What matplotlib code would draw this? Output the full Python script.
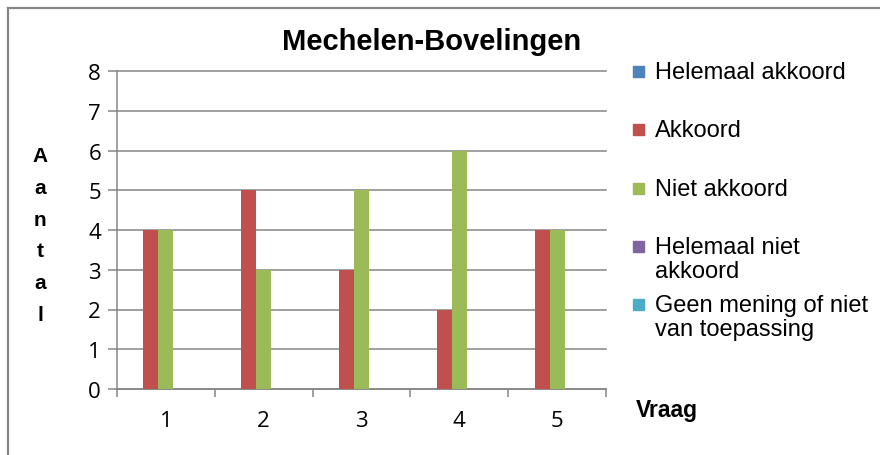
import numpy as np
import matplotlib.pyplot as plt
from matplotlib.lines import Line2D
from matplotlib.patches import Rectangle

# ── data ──────────────────────────────────────────────────────────────────────
vragen = ["1", "2", "3", "4", "5"]
series = ["Helemaal akkoord", "Akkoord", "Niet akkoord",
          "Helemaal niet\nakkoord", "Geen mening of niet\nvan toepassing"]
helemaal_akkoord = [0, 0, 0, 0, 0]
akkoord = [4, 5, 3, 2, 4]
niet_akkoord = [4, 3, 5, 6, 4]
helemaal_niet_akkoord = [0, 0, 0, 0, 0]
geen_mening = [0, 0, 0, 0, 0]
yticks = [0, 1, 2, 3, 4, 5, 6, 7, 8]

values = [helemaal_akkoord, akkoord, niet_akkoord, helemaal_niet_akkoord, geen_mening]
colors = ["#4F81BD", "#C0504D", "#9BBB59", "#8064A2", "#4BACC6"]
GRID = "#868686"

W, H = 880, 456
fig = plt.figure(figsize=(W / 100, H / 100), dpi=100)

# figure frame (only top and left visible in the crop)
fig.add_artist(Line2D([8 / W, 8 / W], [0, 1 - 9 / H], color=GRID, lw=1.6))
fig.add_artist(Line2D([8 / W, 1], [1 - 9 / H, 1 - 9 / H], color=GRID, lw=1.6))

ax = fig.add_axes([117 / W, 1 - 390 / H, (606 - 117) / W, (390 - 72) / H])

# ── bars (Excel style: gap width 150 %) ──────────────────────────────────────
x = np.arange(1, len(vragen) + 1)
bw = 1 / 6.5
for i, (vals, col) in enumerate(zip(values, colors)):
    ax.bar(x + (i - 2) * bw, vals, width=bw, color=col, linewidth=0, zorder=3)

ax.set_xlim(0.5, len(vragen) + 0.5)
ax.set_ylim(0, 8)
ax.set_yticks(yticks)
ax.yaxis.grid(True, color=GRID, lw=1.1)
ax.set_axisbelow(True)
for ln in ax.get_ygridlines():
    ln.set_clip_on(False)

for s in ["top", "right"]:
    ax.spines[s].set_visible(False)
for s in ["left", "bottom"]:
    ax.spines[s].set_color(GRID)
    ax.spines[s].set_linewidth(1.1)

ax.set_xticks(x)
ax.set_xticklabels(vragen, fontfamily="Open Sans", fontsize=16)
ax.set_xticks(np.arange(0.5, len(vragen) + 1), minor=True)
ax.tick_params(axis="x", which="major", length=0, pad=15)
ax.tick_params(axis="x", which="minor", length=6, width=1.1, color=GRID, direction="out")
ax.tick_params(axis="y", length=6.5, width=1.1, color=GRID, direction="out", pad=5)
for lab in ax.get_yticklabels():
    lab.set_fontfamily("Open Sans")
    lab.set_fontsize(16)

# ── titles ────────────────────────────────────────────────────────────────────
fig.text(432 / W, 1 - 42 / H, "Mechelen-Bovelingen", ha="center", va="center",
         fontfamily="Liberation Sans", fontweight="bold", fontsize=21)
fig.text(40 / W, 1 - 236 / H, "\n".join("Aantal"), ha="center", va="center",
         fontfamily="Liberation Sans", fontweight="bold", fontsize=15, linespacing=1.85)
fig.text(636 / W, 1 - 411 / H, "Vraag", ha="left", va="center",
         fontfamily="Liberation Sans", fontweight="bold", fontsize=16.5)

# ── legend ────────────────────────────────────────────────────────────────────
for i, (name, col) in enumerate(zip(series, colors)):
    top = 62 + 58.3 * i
    fig.add_artist(Rectangle((633 / W, 1 - (top + 16) / H), 11 / W, 11 / H,
                             transform=fig.transFigure, color=col))
    fig.text(655 / W, 1 - top / H, name, ha="left", va="top",
             fontfamily="Liberation Sans", fontsize=17, linespacing=1.1)

fig.savefig("out.png", dpi=100)
